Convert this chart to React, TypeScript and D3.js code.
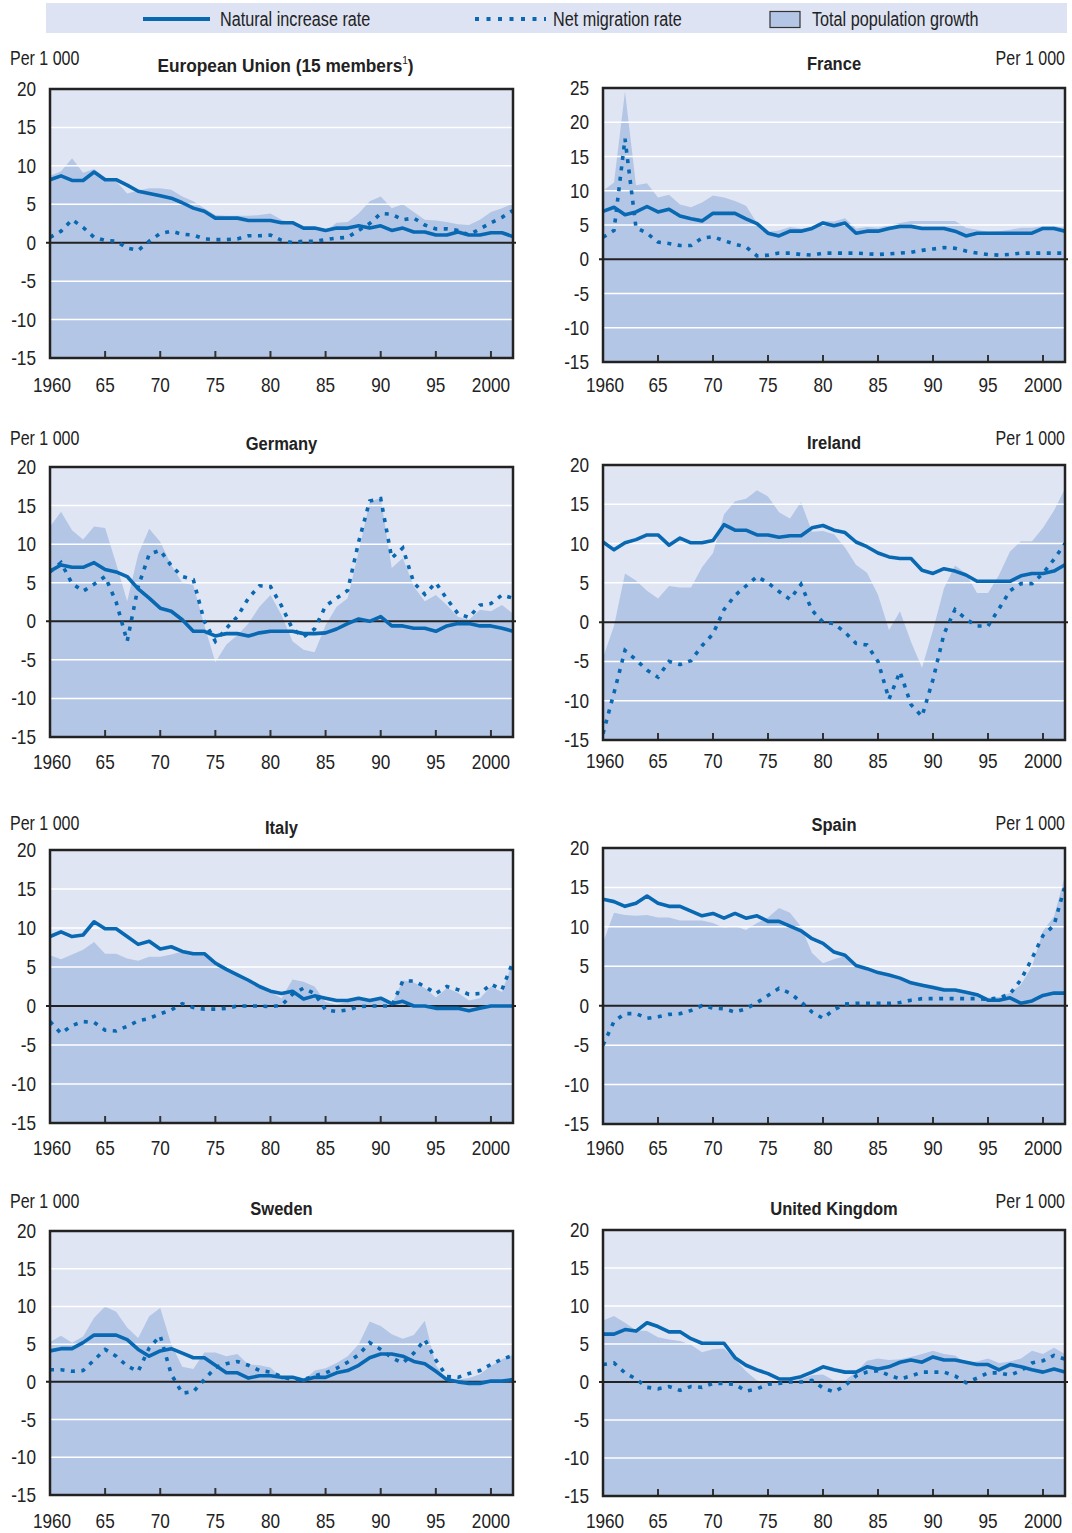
import React from "react";
import * as d3 from "d3";

// ---------- DATA ----------
const years = [
  1960, 1961, 1962, 1963, 1964, 1965, 1966, 1967, 1968, 1969,
  1970, 1971, 1972, 1973, 1974, 1975, 1976, 1977, 1978, 1979,
  1980, 1981, 1982, 1983, 1984, 1985, 1986, 1987, 1988, 1989,
  1990, 1991, 1992, 1993, 1994, 1995, 1996, 1997, 1998, 1999,
  2000, 2001, 2002,
];

const xTickYears = [1960, 1965, 1970, 1975, 1980, 1985, 1990, 1995, 2000];
const xTickLabels = ["1960", "65", "70", "75", "80", "85", "90", "95", "2000"];
const yTicks20 = [-15, -10, -5, 0, 5, 10, 15, 20];
const yTicks25 = [-15, -10, -5, 0, 5, 10, 15, 20, 25];

const legendLabels = ["Natural increase rate", "Net migration rate", "Total population growth"];
const unitLabel = "Per 1 000";

// European Union (15)
const euNatural = [8.2, 8.7, 8.1, 8.1, 9.2, 8.2, 8.2, 7.5, 6.7, 6.4, 6.1, 5.8, 5.2, 4.5, 4.1, 3.2, 3.2, 3.2, 2.9, 2.9, 2.9, 2.6, 2.6, 1.9, 1.9, 1.6, 1.9, 1.9, 2.2, 1.9, 2.2, 1.6, 1.9, 1.4, 1.4, 1.0, 1.0, 1.4, 1.0, 1.0, 1.3, 1.3, 0.8];
const euMigration = [0.7, 1.5, 3.0, 2.0, 0.7, 0.3, 0.2, -0.7, -1.0, 0.2, 1.2, 1.5, 1.1, 1.0, 0.5, 0.4, 0.4, 0.5, 0.9, 0.9, 1.0, 0.3, 0.0, 0.2, 0.2, 0.4, 0.6, 0.7, 1.6, 2.5, 3.8, 3.7, 3.0, 3.2, 2.3, 1.8, 1.8, 1.6, 1.0, 1.8, 2.6, 3.3, 4.2];
const euTotal = [8.7, 9.3, 11.0, 9.1, 9.6, 8.5, 8.0, 6.4, 6.8, 7.1, 7.1, 6.9, 6.0, 5.4, 4.5, 3.6, 3.5, 3.5, 3.5, 3.6, 3.8, 3.0, 2.5, 2.0, 1.8, 1.5, 2.6, 2.7, 3.8, 5.4, 6.0, 4.5, 5.0, 4.0, 3.0, 2.9, 2.7, 2.4, 2.3, 3.0, 4.0, 4.5, 5.1];

// France
const frNatural = [7.0, 7.6, 6.5, 6.9, 7.7, 6.9, 7.3, 6.3, 5.9, 5.6, 6.7, 6.7, 6.7, 5.9, 5.2, 3.8, 3.4, 4.1, 4.1, 4.5, 5.3, 4.9, 5.3, 3.8, 4.1, 4.1, 4.5, 4.8, 4.8, 4.5, 4.5, 4.5, 4.1, 3.4, 3.8, 3.8, 3.8, 3.8, 3.8, 3.8, 4.5, 4.5, 4.1];
const frMigration = [3.2, 4.2, 17.6, 4.6, 3.8, 2.5, 2.3, 2.0, 2.0, 3.1, 3.3, 2.7, 2.2, 1.8, 0.5, 0.6, 0.9, 0.9, 0.7, 0.6, 0.9, 0.9, 0.9, 0.9, 0.8, 0.7, 0.8, 0.9, 1.0, 1.3, 1.5, 1.7, 1.6, 1.2, 0.9, 0.7, 0.6, 0.7, 0.9, 0.9, 0.9, 0.9, 0.9];
const frTotal = [10.0, 11.2, 24.5, 10.8, 11.1, 9.0, 9.4, 8.0, 7.6, 8.3, 9.3, 9.0, 8.5, 7.8, 5.3, 4.0, 4.2, 4.7, 4.5, 4.7, 5.6, 5.5, 6.0, 4.5, 4.7, 4.6, 5.0, 5.3, 5.6, 5.6, 5.6, 5.6, 5.6, 4.6, 4.3, 4.0, 4.1, 4.3, 4.6, 4.6, 4.8, 4.8, 4.6];

// Germany
const deNatural = [6.5, 7.3, 7.0, 7.0, 7.6, 6.7, 6.4, 5.8, 4.2, 3.0, 1.7, 1.3, 0.2, -1.3, -1.3, -1.9, -1.6, -1.6, -1.9, -1.5, -1.3, -1.3, -1.3, -1.6, -1.6, -1.5, -1.0, -0.3, 0.3, 0.0, 0.6, -0.6, -0.6, -0.9, -0.9, -1.3, -0.6, -0.3, -0.3, -0.6, -0.6, -0.9, -1.3];
const deMigration = [6.4, 7.6, 4.9, 3.9, 4.8, 5.8, 2.5, -2.6, 4.5, 8.7, 9.2, 7.2, 5.8, 5.4, 0.0, -2.6, -0.9, 0.6, 3.0, 4.6, 4.5, 2.0, -1.0, -2.0, -1.0, 2.0, 3.0, 4.0, 10.3, 15.6, 15.9, 8.2, 9.5, 5.0, 3.5, 5.0, 2.9, 1.0, 0.5, 2.1, 2.3, 3.4, 3.0];
const deTotal = [12.3, 14.2, 11.8, 10.6, 12.3, 12.1, 7.5, 2.6, 8.7, 12.0, 10.3, 7.3, 5.0, 4.7, -0.5, -5.3, -3.0, -1.8, -0.3, 1.9, 3.4, 0.8, -2.6, -3.7, -4.0, -0.5, 1.9, 3.0, 9.0, 15.5, 16.0, 6.9, 8.2, 4.5, 2.6, 3.4, 2.1, 0.6, 0.2, 1.5, 1.3, 2.1, 1.0];

// Ireland
const ieNatural = [10.2, 9.2, 10.1, 10.5, 11.1, 11.1, 9.8, 10.7, 10.1, 10.1, 10.4, 12.4, 11.7, 11.7, 11.1, 11.1, 10.8, 11.0, 11.0, 12.0, 12.3, 11.7, 11.4, 10.2, 9.6, 8.8, 8.3, 8.1, 8.1, 6.6, 6.2, 6.8, 6.5, 6.0, 5.2, 5.2, 5.2, 5.2, 5.9, 6.2, 6.2, 6.5, 7.3];
const ieMigration = [-14.2, -9.0, -3.6, -4.8, -6.1, -7.0, -5.0, -5.4, -4.9, -3.0, -1.5, 1.6, 3.4, 4.6, 5.8, 5.0, 3.9, 2.9, 4.8, 1.5, 0.0, -0.2, -1.3, -2.7, -2.9, -5.0, -9.8, -6.3, -10.5, -12.0, -7.3, -1.5, 1.6, 0.4, -0.5, -0.5, 1.7, 4.0, 4.9, 4.9, 6.2, 8.0, 10.0];
const ieTotal = [-4.5, -0.5, 6.2, 5.3, 4.0, 3.0, 4.6, 4.4, 4.4, 7.0, 8.8, 13.7, 15.4, 15.7, 16.8, 16.0, 14.0, 13.2, 15.3, 11.5, 11.6, 11.2, 9.5, 7.3, 6.3, 3.5, -1.0, 1.4, -2.5, -5.8, -1.0, 4.3, 7.2, 6.2, 3.7, 3.7, 6.0, 9.0, 10.3, 10.3, 12.0, 14.2, 17.0];

// Italy
const itNatural = [8.9, 9.5, 8.9, 9.1, 10.8, 9.9, 9.9, 8.9, 7.9, 8.3, 7.3, 7.6, 7.0, 6.7, 6.7, 5.5, 4.7, 4.0, 3.3, 2.5, 1.9, 1.6, 1.9, 0.9, 1.3, 1.0, 0.7, 0.7, 1.0, 0.7, 1.0, 0.3, 0.6, 0.0, 0.0, -0.3, -0.3, -0.3, -0.6, -0.3, 0.0, 0.0, 0.0];
const itMigration = [-2.0, -3.5, -2.5, -2.0, -2.1, -3.1, -3.2, -2.6, -1.9, -1.6, -1.0, -0.5, 0.3, -0.2, -0.4, -0.4, -0.3, 0.0, 0.0, 0.0, -0.1, 0.1, 1.5, 2.3, 1.6, -0.5, -0.7, -0.5, -0.1, 0.0, 0.0, 0.0, 3.2, 3.2, 2.5, 1.6, 2.5, 2.1, 1.5, 1.6, 2.8, 2.1, 5.7];
const itTotal = [6.5, 6.0, 6.6, 7.2, 8.2, 6.7, 6.7, 6.1, 5.8, 6.3, 6.3, 6.6, 7.0, 6.7, 6.5, 5.2, 4.7, 4.0, 3.3, 2.5, 1.8, 1.0, 3.4, 3.1, 2.5, 0.5, 0.2, 0.5, 0.8, 0.7, 1.0, 0.2, 3.3, 3.0, 2.3, 1.1, 2.3, 1.7, 0.7, 1.0, 2.5, 1.8, 5.8];

// Spain
const esNatural = [13.5, 13.2, 12.6, 13.0, 13.9, 13.0, 12.6, 12.6, 12.0, 11.4, 11.7, 11.1, 11.7, 11.1, 11.4, 10.7, 10.7, 10.1, 9.5, 8.5, 7.9, 6.8, 6.4, 5.1, 4.7, 4.2, 3.9, 3.5, 2.9, 2.6, 2.3, 2.0, 2.0, 1.7, 1.4, 0.7, 0.7, 1.0, 0.3, 0.6, 1.3, 1.6, 1.6];
const esMigration = [-5.0, -2.0, -1.0, -1.0, -1.6, -1.4, -1.1, -1.0, -0.6, 0.0, -0.3, -0.4, -0.8, -0.4, 0.4, 1.3, 2.2, 1.6, 0.5, -0.8, -1.6, -0.5, 0.2, 0.3, 0.3, 0.3, 0.3, 0.4, 0.7, 0.9, 0.9, 0.9, 0.9, 0.9, 0.9, 0.8, 1.0, 1.5, 3.3, 6.0, 8.9, 10.2, 15.2];
const esTotal = [8.0, 11.8, 11.5, 11.4, 11.5, 11.2, 11.2, 10.8, 10.8, 10.8, 10.5, 9.9, 10.1, 9.6, 10.5, 11.2, 12.4, 11.8, 10.0, 6.7, 5.4, 5.9, 6.3, 5.1, 4.7, 4.2, 3.8, 3.5, 3.0, 2.8, 2.6, 2.3, 2.1, 1.9, 1.6, 1.0, 1.1, 1.6, 2.7, 5.0, 9.5, 11.3, 16.5];

// Sweden
const seNatural = [4.1, 4.4, 4.4, 5.2, 6.2, 6.2, 6.2, 5.6, 4.3, 3.4, 4.1, 4.4, 3.8, 3.2, 3.2, 2.2, 1.2, 1.2, 0.5, 0.8, 0.8, 0.6, 0.6, 0.2, 0.6, 0.6, 1.2, 1.5, 2.2, 3.2, 3.7, 3.7, 3.4, 2.7, 2.4, 1.4, 0.3, 0.0, -0.2, -0.2, 0.1, 0.1, 0.3];
const seMigration = [1.6, 1.6, 1.4, 1.5, 2.9, 4.3, 3.4, 2.1, 1.4, 4.5, 6.1, 1.0, -1.5, -1.3, 0.3, 1.9, 2.4, 2.7, 2.2, 1.5, 1.3, 0.7, 0.3, 0.3, 0.8, 1.2, 1.8, 2.6, 3.6, 5.2, 4.3, 3.2, 2.5, 3.8, 5.6, 2.9, 0.7, 0.6, 1.1, 1.5, 2.3, 3.0, 3.5];
const seTotal = [5.3, 6.1, 5.2, 6.0, 8.5, 10.0, 9.3, 7.2, 5.8, 8.7, 9.8, 5.0, 2.0, 1.7, 3.9, 3.9, 3.4, 3.7, 2.3, 2.2, 1.9, 0.5, 0.2, 0.1, 1.5, 1.8, 2.5, 3.4, 5.0, 8.0, 7.4, 6.3, 5.7, 6.2, 8.1, 2.2, 0.3, 0.3, 0.5, 1.0, 2.1, 3.0, 3.6];

// United Kingdom
const ukNatural = [6.3, 6.3, 6.9, 6.7, 7.8, 7.3, 6.6, 6.6, 5.7, 5.1, 5.1, 5.1, 3.2, 2.2, 1.6, 1.1, 0.4, 0.4, 0.7, 1.3, 2.0, 1.6, 1.3, 1.3, 2.0, 1.7, 2.0, 2.6, 2.9, 2.6, 3.3, 2.9, 2.9, 2.6, 2.3, 2.3, 1.6, 2.3, 2.0, 1.6, 1.3, 1.7, 1.3];
const ukMigration = [2.3, 2.5, 1.2, 0.4, -0.7, -0.9, -0.6, -1.1, -0.6, -0.7, -0.2, -0.2, -0.3, -1.2, -0.9, -0.3, -0.2, 0.0, 0.0, 0.2, -0.8, -1.3, -0.5, 0.8, 1.3, 1.5, 0.9, 0.4, 0.8, 1.3, 1.3, 1.3, 0.8, -0.1, 0.5, 1.2, 1.2, 0.9, 1.5, 2.5, 2.8, 3.5, 3.0];
const ukTotal = [8.1, 8.7, 7.8, 6.8, 6.7, 5.9, 5.6, 5.4, 4.9, 3.9, 4.3, 4.4, 3.0, 1.4, 0.2, -0.1, 0.0, 0.1, 0.4, 0.9, 1.0, 0.2, 0.2, 1.3, 2.8, 3.1, 2.9, 3.0, 3.3, 3.7, 4.1, 3.7, 3.5, 2.5, 2.7, 3.1, 2.5, 2.7, 3.1, 4.1, 3.7, 4.5, 3.7];

// ---------- STYLE / LAYOUT ----------
const FONT = "'Liberation Sans', Arial, Helvetica, sans-serif";
const BLUE = "#0868b2";
const AREA = "#b4c6e6";
const BG = "#e0e5f3";
const LEGEND_BG = "#dde3f2";
const INK = "#222";

type PanelDef = {
  title: string;
  sup?: string;
  natural: number[];
  migration: number[];
  total: number[];
  yTicks: number[];
  side: "left" | "right";
  box: { x0: number; x1: number; top: number; bottom: number };
  perY: number;
  titleY: number;
  xLabY: number;
};

const panels: PanelDef[] = [
  { title: "European Union (15 members", sup: "1", natural: euNatural, migration: euMigration, total: euTotal, yTicks: yTicks20, side: "left", box: { x0: 50, x1: 513, top: 89, bottom: 358 }, perY: 65, titleY: 72, xLabY: 392 },
  { title: "France", natural: frNatural, migration: frMigration, total: frTotal, yTicks: yTicks25, side: "right", box: { x0: 603, x1: 1065, top: 88, bottom: 362 }, perY: 65, titleY: 70, xLabY: 392 },
  { title: "Germany", natural: deNatural, migration: deMigration, total: deTotal, yTicks: yTicks20, side: "left", box: { x0: 50, x1: 513, top: 467, bottom: 737 }, perY: 445, titleY: 450, xLabY: 769 },
  { title: "Ireland", natural: ieNatural, migration: ieMigration, total: ieTotal, yTicks: yTicks20, side: "right", box: { x0: 603, x1: 1065, top: 465, bottom: 740 }, perY: 445, titleY: 449, xLabY: 768 },
  { title: "Italy", natural: itNatural, migration: itMigration, total: itTotal, yTicks: yTicks20, side: "left", box: { x0: 50, x1: 513, top: 850, bottom: 1123 }, perY: 830, titleY: 834, xLabY: 1155 },
  { title: "Spain", natural: esNatural, migration: esMigration, total: esTotal, yTicks: yTicks20, side: "right", box: { x0: 603, x1: 1065, top: 848, bottom: 1124 }, perY: 830, titleY: 831, xLabY: 1155 },
  { title: "Sweden", natural: seNatural, migration: seMigration, total: seTotal, yTicks: yTicks20, side: "left", box: { x0: 50, x1: 513, top: 1231, bottom: 1495 }, perY: 1208, titleY: 1215, xLabY: 1528 },
  { title: "United Kingdom", natural: ukNatural, migration: ukMigration, total: ukTotal, yTicks: yTicks20, side: "right", box: { x0: 603, x1: 1065, top: 1230, bottom: 1496 }, perY: 1208, titleY: 1215, xLabY: 1528 },
];

// condensed text: Liberation Sans squeezed horizontally around its anchor
function T({
  x, y, size, sx = 0.82, anchor = "start", bold = false, children,
}: {
  x: number; y: number; size: number; sx?: number; anchor?: "start" | "middle" | "end"; bold?: boolean; children: React.ReactNode;
}) {
  return (
    <text
      transform={`translate(${x},${y}) scale(${sx},1)`}
      textAnchor={anchor}
      fontSize={size}
      fontWeight={bold ? "bold" : "normal"}
      fill={INK}
    >
      {children}
    </text>
  );
}

function Panel({ p }: { p: PanelDef }) {
  const { x0, x1, top, bottom } = p.box;
  const yMin = p.yTicks[0];
  const yMax = p.yTicks[p.yTicks.length - 1];
  const x = d3.scaleLinear().domain([years[0], years[years.length - 1]]).range([x0, x1]);
  const y = d3.scaleLinear().domain([yMin, yMax]).range([bottom, top]);
  const area = d3
    .area<number>()
    .x((_, i) => x(years[i]))
    .y0(y(yMin))
    .y1((d) => y(d));
  const line = d3
    .line<number>()
    .x((_, i) => x(years[i]))
    .y((d) => y(d));
  const clipId = "clip-" + p.title.replace(/\W/g, "");
  return (
    <g>
      <defs>
        <clipPath id={clipId}>
          <rect x={x0} y={top} width={x1 - x0} height={bottom - top} />
        </clipPath>
      </defs>
      <rect x={x0} y={top} width={x1 - x0} height={bottom - top} fill={BG} />
      <path d={area(p.total) || ""} fill={AREA} clipPath={`url(#${clipId})`} />
      {p.yTicks
        .filter((t) => t !== yMin && t !== 0 && t !== yMax)
        .map((t) => (
          <line key={t} x1={x0} x2={x1} y1={y(t)} y2={y(t)} stroke="#ffffff" strokeWidth={1.5} />
        ))}
      <line x1={x0 - 4} x2={x1 + 3} y1={y(0)} y2={y(0)} stroke={INK} strokeWidth={2} />
      <g clipPath={`url(#${clipId})`}>
        <path d={line(p.migration) || ""} fill="none" stroke={BLUE} strokeWidth={3.6} strokeDasharray="4 6.5" />
        <path d={line(p.natural) || ""} fill="none" stroke={BLUE} strokeWidth={3.6} strokeLinejoin="round" />
      </g>
      {xTickYears.slice(1).map((yr) => (
        <line key={yr} x1={x(yr)} x2={x(yr)} y1={bottom} y2={bottom - 7} stroke="#333" strokeWidth={2} />
      ))}
      <rect x={x0} y={top} width={x1 - x0} height={bottom - top} fill="none" stroke={INK} strokeWidth={2.5} />
      {p.yTicks.map((t) => (
        <T key={t} x={x0 - 14} y={y(t) + 7} anchor="end" size={20} sx={0.86}>
          {t}
        </T>
      ))}
      {xTickYears.map((yr, i) => (
        <T key={yr} x={x(yr) + (i === 0 ? 2 : 0)} y={p.xLabY} anchor="middle" size={20} sx={0.86}>
          {xTickLabels[i]}
        </T>
      ))}
      <T x={p.side === "left" ? 10 : 1065} y={p.perY} anchor={p.side === "left" ? "start" : "end"} size={20} sx={0.8}>
        {unitLabel}
      </T>
      <T x={(x0 + x1) / 2 + (p.sup ? 4 : 0)} y={p.titleY} anchor="middle" size={19} sx={p.sup ? 0.91 : 0.87} bold>
        {p.title}
        {p.sup ? (
          <>
            <tspan fontSize={11} fontWeight="normal" dy={-8}>{p.sup}</tspan>
            <tspan dy={8}>)</tspan>
          </>
        ) : null}
      </T>
    </g>
  );
}

function Legend() {
  return (
    <g>
      <rect x={46} y={3} width={1021} height={30} fill={LEGEND_BG} />
      <line x1={143} x2={210} y1={19} y2={19} stroke={BLUE} strokeWidth={4} />
      <T x={220} y={26} size={20} sx={0.81}>{legendLabels[0]}</T>
      <line x1={475} x2={546} y1={19} y2={19} stroke={BLUE} strokeWidth={4} strokeDasharray="4 7.5" />
      <T x={553} y={26} size={20} sx={0.81}>{legendLabels[1]}</T>
      <rect x={770} y={11.5} width={30} height={16} fill={AREA} stroke="#333" strokeWidth={1.2} />
      <T x={812} y={26} size={20} sx={0.81}>{legendLabels[2]}</T>
    </g>
  );
}

export default function App() {
  return (
    <svg
      width={1072}
      height={1533}
      viewBox="0 0 1072 1533"
      style={{ position: "absolute", left: 0, top: 0, background: "#ffffff" }}
      fontFamily={FONT}
    >
      <rect x={0} y={0} width={1072} height={1533} fill="#ffffff" />
      <Legend />
      {panels.map((p) => (
        <Panel key={p.title} p={p} />
      ))}
    </svg>
  );
}
